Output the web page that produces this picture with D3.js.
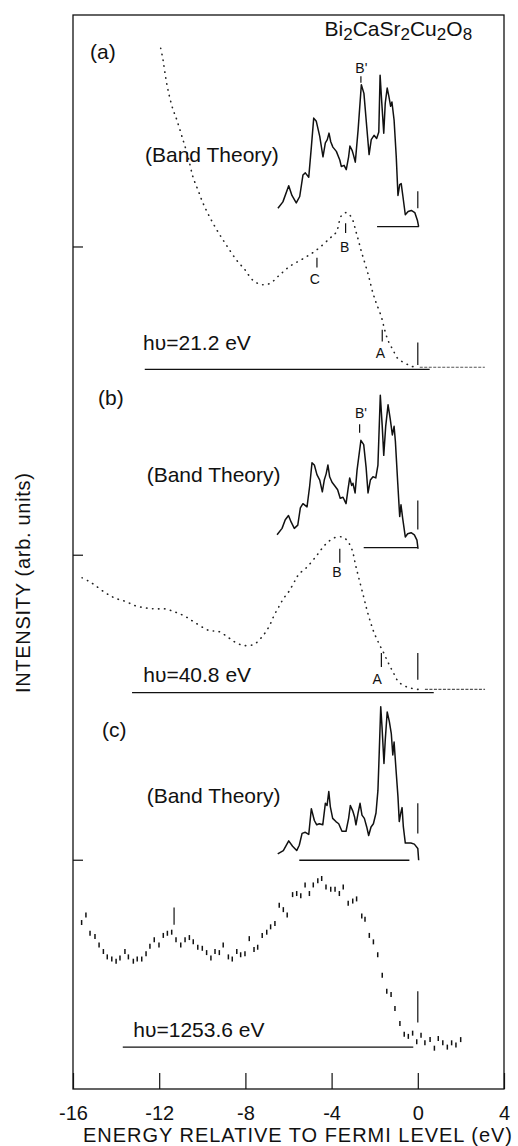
<!DOCTYPE html>
<html lang="en">
<head>
<meta charset="UTF-8">
<title>Bi2CaSr2Cu2O8 photoemission spectra</title>
<script src="https://d3js.org/d3.v7.min.js"></script>
<style>
  body { margin: 0; background: #fff; }
  svg { display: block; font-family: "Liberation Sans", Arial, Helvetica, sans-serif; }
</style>
</head>
<body>
<div id="chart"></div>
<script>
// energy in eV relative to the Fermi level, intensity in arb. units
const energyTicks = [-16, -12, -8, -4, 0, 4];
const offsetTicks = [78.4, 49.7, 21.3];

// (a) hv = 21.2 eV
const bandA = [[-6.49,82.0],[-6.26,82.6],[-5.99,84.1],[-5.84,83.2],[-5.64,82.5],[-5.48,83.1],[-5.33,85.1],[-5.22,85.3],[-5.06,84.9],[-4.94,87.7],[-4.83,90.4],[-4.71,90.1],[-4.55,88.7],[-4.40,86.8],[-4.29,88.1],[-4.20,88.4],[-4.12,89.0],[-4.04,88.2],[-3.94,87.7],[-3.78,87.3],[-3.62,86.5],[-3.55,85.9],[-3.42,86.0],[-3.32,85.6],[-3.21,86.8],[-3.15,87.8],[-3.05,87.4],[-2.99,87.0],[-2.90,86.3],[-2.77,89.3],[-2.62,93.5],[-2.50,92.7],[-2.37,89.6],[-2.26,87.0],[-2.16,88.4],[-2.03,88.8],[-1.91,88.5],[-1.81,89.1],[-1.75,94.4],[-1.68,92.1],[-1.58,89.0],[-1.51,91.8],[-1.42,93.2],[-1.34,92.4],[-1.26,91.5],[-1.20,91.9],[-1.10,90.2],[-1.00,86.8],[-0.92,83.2],[-0.84,84.2],[-0.77,84.3],[-0.69,83.1],[-0.58,81.4],[-0.45,81.7],[-0.30,81.8],[-0.14,81.6],[-0.02,80.9],[0.04,80.3]];
const expA = [[-11.93,96.9],[-11.82,95.8],[-11.74,94.7],[-11.59,93.0],[-11.36,91.2],[-11.21,90.4],[-10.90,88.4],[-10.66,86.8],[-10.43,84.9],[-10.20,83.7],[-9.97,82.5],[-9.66,81.2],[-9.27,79.8],[-8.89,78.6],[-8.42,77.2],[-8.03,76.3],[-7.65,75.3],[-7.26,74.9],[-6.87,75.0],[-6.41,75.8],[-5.94,76.6],[-5.33,77.3],[-4.71,78.1],[-4.09,79.2],[-3.78,79.8],[-3.55,81.3],[-3.32,81.6],[-3.09,81.2],[-2.85,79.7],[-2.62,78.0],[-2.31,75.9],[-2.08,74.1],[-1.93,73.2],[-1.69,71.9],[-1.54,70.7],[-1.38,69.7],[-1.15,68.8],[-0.92,68.0],[-0.61,67.6],[-0.30,67.3],[-0.07,67.2]];
const tailA = [[0.09,67.2],[3.11,67.2]];

// (b) hv = 40.8 eV
const bandB = [[-6.53,51.6],[-6.30,52.2],[-6.15,53.0],[-6.00,53.4],[-5.88,52.8],[-5.73,52.2],[-5.57,52.5],[-5.45,54.1],[-5.33,54.5],[-5.14,54.2],[-5.02,56.1],[-4.91,58.3],[-4.80,58.1],[-4.68,57.2],[-4.55,56.7],[-4.43,55.6],[-4.34,56.7],[-4.25,57.3],[-4.17,58.1],[-4.09,57.0],[-3.98,56.5],[-3.83,56.1],[-3.72,55.8],[-3.60,55.0],[-3.47,55.1],[-3.33,54.5],[-3.24,55.8],[-3.16,56.9],[-3.07,56.2],[-3.01,56.4],[-2.91,55.5],[-2.82,57.6],[-2.64,60.4],[-2.51,60.0],[-2.40,57.9],[-2.31,55.5],[-2.20,56.7],[-2.08,57.0],[-1.95,56.9],[-1.85,58.1],[-1.74,64.6],[-1.65,61.7],[-1.58,59.0],[-1.49,61.7],[-1.38,63.7],[-1.28,62.4],[-1.18,60.9],[-1.10,61.7],[-1.04,60.3],[-0.93,56.4],[-0.84,53.3],[-0.78,54.4],[-0.70,53.1],[-0.58,51.4],[-0.47,51.7],[-0.31,51.8],[-0.16,51.6],[-0.04,51.1],[0.01,50.3]];
const expB = [[-15.58,47.6],[-15.12,47.1],[-14.50,46.2],[-14.04,45.7],[-13.57,45.4],[-13.11,45.0],[-12.65,44.8],[-12.18,44.7],[-11.72,44.7],[-11.25,44.4],[-10.79,44.0],[-10.32,43.4],[-9.70,42.7],[-9.24,42.6],[-8.77,42.0],[-8.47,41.6],[-8.08,41.3],[-7.61,41.4],[-7.23,42.1],[-6.92,43.0],[-6.69,44.0],[-6.45,44.9],[-6.22,45.7],[-5.99,46.3],[-5.68,47.4],[-5.53,47.9],[-5.14,48.6],[-4.68,49.7],[-4.29,50.7],[-3.90,51.3],[-3.52,51.4],[-3.29,51.1],[-3.05,50.2],[-2.90,48.9],[-2.74,47.6],[-2.51,45.8],[-2.36,44.6],[-2.20,43.5],[-2.05,42.6],[-1.81,41.5],[-1.58,40.6],[-1.35,39.6],[-1.12,38.7],[-0.89,37.9],[-0.58,37.5],[-0.27,37.3],[0.04,37.2]];
const tailB = [[0.33,37.2],[3.12,37.2]];

// (c) hv = 1253.6 eV
const bandC = [[-6.50,21.9],[-6.24,22.2],[-5.99,23.1],[-5.81,22.6],[-5.62,22.2],[-5.50,22.7],[-5.37,23.8],[-5.22,23.9],[-5.06,23.7],[-4.94,26.1],[-4.80,25.0],[-4.69,24.6],[-4.57,24.7],[-4.41,24.6],[-4.29,26.6],[-4.21,26.4],[-4.13,27.7],[-4.06,26.3],[-3.95,25.2],[-3.80,24.9],[-3.67,24.7],[-3.52,24.0],[-3.33,24.0],[-3.21,25.2],[-3.13,26.4],[-3.02,25.9],[-2.93,25.3],[-2.87,24.6],[-2.77,25.7],[-2.68,26.6],[-2.59,25.5],[-2.48,25.2],[-2.37,24.4],[-2.28,23.6],[-2.17,24.4],[-2.06,24.7],[-1.94,25.7],[-1.85,27.8],[-1.79,31.3],[-1.72,35.6],[-1.66,33.7],[-1.57,30.3],[-1.51,32.5],[-1.42,35.1],[-1.32,34.2],[-1.23,33.1],[-1.16,31.1],[-1.10,32.3],[-1.01,29.7],[-0.92,27.2],[-0.86,24.9],[-0.79,25.7],[-0.73,26.2],[-0.67,24.4],[-0.58,22.9],[-0.47,22.9],[-0.32,22.9],[-0.16,22.8],[0.00,22.4],[0.04,21.3]];
const expC = [[-15.60,15.5],[-15.40,16.2],[-15.21,14.5],[-14.98,14.2],[-14.79,13.4],[-14.59,12.8],[-14.41,12.3],[-14.20,12.1],[-14.00,11.9],[-13.82,12.2],[-13.59,12.8],[-13.43,12.3],[-13.20,11.9],[-13.02,12.1],[-12.81,12.1],[-12.61,12.6],[-12.43,13.3],[-12.23,13.9],[-12.01,13.4],[-11.81,14.3],[-11.62,14.5],[-11.42,14.6],[-11.22,13.9],[-11.00,13.4],[-10.80,13.9],[-10.60,14.1],[-10.42,13.7],[-10.21,13.2],[-10.00,13.1],[-9.80,12.7],[-9.60,12.2],[-9.41,12.8],[-9.21,12.7],[-9.03,13.4],[-8.79,12.3],[-8.61,12.1],[-8.40,12.8],[-8.22,12.5],[-8.02,12.6],[-7.82,14.0],[-7.60,13.0],[-7.43,13.2],[-7.22,14.3],[-7.01,14.6],[-6.83,15.1],[-6.63,15.4],[-6.43,17.1],[-6.24,16.7],[-6.06,16.2],[-5.81,18.1],[-5.62,18.2],[-5.43,18.0],[-5.23,19.0],[-5.03,18.2],[-4.85,19.0],[-4.64,19.4],[-4.46,19.6],[-4.26,18.8],[-4.04,18.6],[-3.84,18.6],[-3.64,18.2],[-3.46,18.8],[-3.23,17.3],[-3.02,17.5],[-2.84,17.7],[-2.60,16.1],[-2.45,15.8],[-2.25,14.3],[-2.06,13.7],[-1.86,12.5],[-1.65,10.6],[-1.44,9.1],[-1.24,8.8],[-1.06,7.5],[-0.83,6.1],[-0.63,5.1],[-0.44,4.9],[-0.24,5.2],[-0.05,4.4],[0.15,5.0],[0.33,4.3],[0.57,4.6],[0.77,3.8],[0.95,4.7],[1.16,4.3],[1.37,3.9],[1.57,4.3],[1.77,4.1],[1.99,4.6]];

// baselines [from eV, to eV, level]
const bandBaselines = [[-1.89, 0.05, 80.3], [-2.51, 0.0, 50.4], [-5.50, -0.39, 21.3]];
const expBaselines = [[-12.67, 0.55, 67.0], [-13.26, 0.74, 36.9], [-13.69, -0.21, 3.9]];

// Fermi-level markers [eV, from, to]
const fermiMarks = [[0, 82.0, 83.6], [0, 67.4, 69.5], [0, 52.1, 54.8], [0, 38.1, 40.6], [0, 23.8, 26.6], [0, 6.2, 9.1]];

// feature markers: tick [eV, from, to], label [eV, baseline level]
const featureNames = ["B'", "B", "C", "A", "B'", "B", "A", ""];
const featureTicks = [[-2.64, 93.7, 94.3], [-3.35, 79.7, 80.6], [-4.68, 76.5, 77.4], [-1.65, 69.6, 70.7], [-2.70, 61.1, 61.9], [-3.62, 49.0, 50.3], [-1.69, 39.3, 40.6], [-11.31, 15.3, 16.9]];
const featureLabels = [[-2.62, 94.6], [-3.39, 77.9], [-4.78, 75.0], [-1.74, 68.1], [-2.64, 62.5], [-3.75, 47.7], [-1.89, 37.7], [0, 0]];

// panel texts
const panelNames = ["(a)", "(b)", "(c)"];
const panelNamePos = [[-15.21, 95.9], [-14.84, 63.7], [-14.65, 32.8]];
const bandTitlePos = [[-12.66, 86.3], [-12.58, 56.5], [-12.58, 26.6]];
const photonLabels = ["hυ=21.2 eV", "hυ=40.8 eV", "hυ=1253.6 eV"];
const photonPos = [[-12.75, 68.8], [-12.74, 37.9], [-13.20, 4.8]];

const width = 518, height = 1146;
const x = d3.scaleLinear().domain([-16, 4]).range([73, 504]);
const y = d3.scaleLinear().domain([0, 100]).range([1089, 15]);
const ink = "#111";

const svg = d3.select("#chart").append("svg")
    .attr("width", width)
    .attr("height", height);

// frame
svg.append("rect")
    .attr("x", x(-16)).attr("y", y(100))
    .attr("width", x(4) - x(-16)).attr("height", y(0) - y(100))
    .attr("fill", "none").attr("stroke", ink).attr("stroke-width", 1.3);

// bottom axis, ticks pointing inward
const xAxis = d3.axisBottom(x)
    .tickValues(energyTicks)
    .tickFormat(d => String(d))
    .tickSizeInner(-16)
    .tickSizeOuter(0)
    .tickPadding(17);
const gx = svg.append("g").attr("transform", `translate(0,${y(0)})`).call(xAxis);
gx.select(".domain").remove();
gx.selectAll("line").attr("stroke", ink).attr("stroke-width", 1.2);
gx.selectAll("text").attr("font-size", 20).attr("fill", ink).attr("font-family", null);

// left offset ticks
svg.append("g").selectAll("line").data(offsetTicks).join("line")
    .attr("x1", x(-16)).attr("x2", x(-16) + 10)
    .attr("y1", d => y(d)).attr("y2", d => y(d))
    .attr("stroke", ink).attr("stroke-width", 1.2);

// axis titles
svg.append("text")
    .attr("x", x(-16) + 10).attr("y", 1142)
    .attr("font-size", 20).attr("fill", ink)
    .attr("textLength", 429).attr("lengthAdjust", "spacing")
    .text("ENERGY RELATIVE TO FERMI LEVEL (eV)");

svg.append("text")
    .attr("transform", `translate(30,${(y(49.7) + y(21.3)) / 2 - 125}) rotate(-90)`)
    .attr("text-anchor", "middle")
    .attr("font-size", 20).attr("letter-spacing", 0.7).attr("fill", ink)
    .text("INTENSITY (arb. units)");

// compound name with subscripts
const title = svg.append("text")
    .attr("x", x(2.52)).attr("y", y(98.0))
    .attr("text-anchor", "end").attr("font-size", 21).attr("fill", ink);
[["Bi", false], ["2", true], ["CaSr", false], ["2", true], ["Cu", false], ["2", true], ["O", false], ["8", true]]
    .forEach(([t, sub]) => {
        title.append("tspan")
            .attr("font-size", sub ? 17 : 21)
            .attr("baseline-shift", sub ? -4 : 0)
            .text(t);
    });

const bandLine = d3.line().x(d => x(d[0])).y(d => y(d[1]));
const expLine = d3.line().x(d => x(d[0])).y(d => y(d[1])).curve(d3.curveCatmullRom);

// band theory curves
[bandA, bandB, bandC].forEach(data => {
    svg.append("path").datum(data)
        .attr("d", bandLine)
        .attr("fill", "none").attr("stroke", ink)
        .attr("stroke-width", 1.5).attr("stroke-linejoin", "round");
});

// dotted UPS spectra
[expA, expB].forEach(data => {
    svg.append("path").datum(data)
        .attr("d", expLine)
        .attr("fill", "none").attr("stroke", "#222")
        .attr("stroke-width", 1.6).attr("stroke-linecap", "round")
        .attr("stroke-dasharray", "0.4 5.6");
});
[tailA, tailB].forEach(data => {
    svg.append("path").datum(data)
        .attr("d", bandLine)
        .attr("fill", "none").attr("stroke", "#555")
        .attr("stroke-width", 1.2)
        .attr("stroke-dasharray", "3 1.5");
});

// XPS points drawn as short vertical bars
svg.append("g").selectAll("line").data(expC).join("line")
    .attr("x1", d => x(d[0])).attr("x2", d => x(d[0]))
    .attr("y1", d => y(d[1]) - 2.5).attr("y2", d => y(d[1]) + 2.5)
    .attr("stroke", ink).attr("stroke-width", 1.5);

// baselines
svg.append("g").selectAll("line").data(bandBaselines.concat(expBaselines)).join("line")
    .attr("x1", d => x(d[0])).attr("x2", d => x(d[1]))
    .attr("y1", d => y(d[2])).attr("y2", d => y(d[2]))
    .attr("stroke", ink).attr("stroke-width", 1.3);

// Fermi level markers
svg.append("g").selectAll("line").data(fermiMarks).join("line")
    .attr("x1", d => x(d[0])).attr("x2", d => x(d[0]))
    .attr("y1", d => y(d[1])).attr("y2", d => y(d[2]))
    .attr("stroke", ink).attr("stroke-width", 1.2);

// feature markers and their letters
svg.append("g").selectAll("line").data(featureTicks).join("line")
    .attr("x1", d => x(d[0])).attr("x2", d => x(d[0]))
    .attr("y1", d => y(d[1])).attr("y2", d => y(d[2]))
    .attr("stroke", ink).attr("stroke-width", 1.2);
svg.append("g").selectAll("text").data(featureLabels).join("text")
    .attr("x", d => x(d[0])).attr("y", d => y(d[1]))
    .attr("text-anchor", "middle").attr("font-size", 14).attr("fill", ink)
    .text((d, i) => featureNames[i]);

// panel letters, band theory titles, photon energies
svg.append("g").selectAll("text").data(panelNames).join("text")
    .attr("x", (d, i) => x(panelNamePos[i][0])).attr("y", (d, i) => y(panelNamePos[i][1]))
    .attr("font-size", 21).attr("fill", ink).text(d => d);
svg.append("g").selectAll("text").data(bandTitlePos).join("text")
    .attr("x", d => x(d[0])).attr("y", d => y(d[1]))
    .attr("font-size", 21).attr("fill", ink).text("(Band Theory)");
svg.append("g").selectAll("text").data(photonLabels).join("text")
    .attr("x", (d, i) => x(photonPos[i][0])).attr("y", (d, i) => y(photonPos[i][1]))
    .attr("font-size", 21).attr("fill", ink).text(d => d);
</script>
</body>
</html>
